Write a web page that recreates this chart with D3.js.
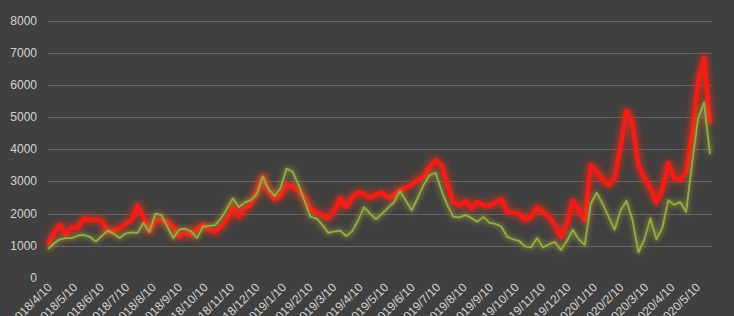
<!DOCTYPE html>
<html>
<head>
<meta charset="utf-8">
<script src="https://cdn.jsdelivr.net/npm/d3@7"></script>
<style>
  html, body { margin: 0; padding: 0; background: #404040; }
  svg { display: block; }
</style>
</head>
<body>
<svg id="chart" width="734" height="316"></svg>
<script>
// weekly series, first week 2018/4/8
const startDate = "2018-04-08"
const redValues = [
  1050, 1400, 1650, 1350, 1580, 1550, 1850, 1800, 1820, 1780,
  1430, 1480, 1550, 1680, 1800, 2250, 1900, 1450, 1800, 1780,
  1750, 1580, 1300, 1400, 1340, 1550, 1650, 1500, 1420, 1600,
  1800, 2200, 1900, 2150, 2300, 2650, 3150, 2700, 2450, 2550,
  2900, 2850, 2700, 2500, 2150, 2050, 1950, 1860, 2100, 2480,
  2200, 2500, 2670, 2600, 2480, 2600, 2650, 2480, 2580, 2730,
  2800, 2900, 3050, 3150, 3450, 3660, 3500, 2900, 2350, 2250,
  2380, 2170, 2360, 2250, 2230, 2350, 2450, 2050, 2030, 2000,
  1800, 1900, 2200, 2050, 1900, 1650, 1270, 1700, 2400, 2100,
  1800, 3500, 3300, 3050, 2890, 3100, 4100, 5200, 4800, 3500,
  3100, 2800, 2350, 2750, 3570, 3100, 3040, 3300, 4500, 6100,
  6850, 4800
]
const greenValues = [
  900, 1080, 1200, 1240, 1240, 1320, 1340, 1280, 1130, 1300,
  1470, 1380, 1240, 1380, 1420, 1400, 1710, 1430, 2000, 1950,
  1600, 1240, 1500, 1530, 1450, 1240, 1600, 1620, 1640, 1850,
  2150, 2480, 2200, 2350, 2420, 2600, 3150, 2750, 2550, 2800,
  3400, 3300, 2900, 2400, 1900, 1850, 1650, 1400, 1450, 1470,
  1300, 1450, 1800, 2200, 2000, 1820, 2000, 2180, 2350, 2700,
  2400, 2100, 2500, 2900, 3200, 3270, 2700, 2250, 1900, 1880,
  1960, 1860, 1750, 1900, 1720, 1680, 1600, 1280, 1200, 1150,
  980, 950, 1240, 950, 1050, 1120, 870, 1150, 1500, 1200,
  1030, 2300, 2650, 2300, 1900, 1500, 2100, 2400, 1800, 800,
  1200, 1860, 1200, 1550, 2420, 2270, 2360, 2050, 3570, 4950,
  5450, 3850
]
const yTicks = [0, 1000, 2000, 3000, 4000, 5000, 6000, 7000, 8000]
const xTickLabels = [
  "2018/4/10", "2018/5/10", "2018/6/10", "2018/7/10", "2018/8/10", "2018/9/10",
  "2018/10/10", "2018/11/10", "2018/12/10", "2019/1/10", "2019/2/10", "2019/3/10",
  "2019/4/10", "2019/5/10", "2019/6/10", "2019/7/10", "2019/8/10", "2019/9/10",
  "2019/10/10", "2019/11/10", "2019/12/10", "2020/1/10", "2020/2/10", "2020/3/10",
  "2020/4/10", "2020/5/10"
]

const parseLabel = d3.timeParse("%Y/%m/%d")
const first = d3.timeParse("%Y-%m-%d")(startDate)
const dates = redValues.map((v, i) => d3.timeDay.offset(first, i * 7))

const svg = d3.select("#chart")
const plotLeft = 48, plotRight = 710, plotTop = 20.5, plotBottom = 278

const x = d3.scaleTime()
  .domain([dates[0], dates[dates.length - 1]])
  .range([plotLeft, plotRight])
const y = d3.scaleLinear().domain([0, 8000]).range([plotBottom, plotTop])

// soft glow round the lines
const defs = svg.append("defs")
function glow(id, dev, color, opacity) {
  const f = defs.append("filter").attr("id", id)
    .attr("x", "-10%").attr("y", "-40%").attr("width", "120%").attr("height", "180%")
  f.append("feMorphology").attr("in", "SourceAlpha").attr("operator", "dilate").attr("radius", 1).attr("result", "fat")
  f.append("feGaussianBlur").attr("in", "fat").attr("stdDeviation", dev).attr("result", "b")
  f.append("feFlood").attr("flood-color", color).attr("flood-opacity", opacity)
  f.append("feComposite").attr("in2", "b").attr("operator", "in").attr("result", "halo")
  const m = f.append("feMerge")
  m.append("feMergeNode").attr("in", "halo")
  m.append("feMergeNode").attr("in", "SourceGraphic")
}
glow("glowRed", 3.5, "#e02a1a", 0.85)
glow("glowGreen", 2.5, "#a8a030", 0.55)

// grid
svg.append("g")
  .selectAll("line")
  .data(yTicks.filter(d => d > 0))
  .enter().append("line")
  .attr("x1", plotLeft).attr("x2", plotRight + 2)
  .attr("y1", d => Math.round(y(d)) + 0.5).attr("y2", d => Math.round(y(d)) + 0.5)
  .attr("stroke", "#646464").attr("stroke-width", 1)

// y labels
svg.append("g")
  .selectAll("text")
  .data(yTicks)
  .enter().append("text")
  .attr("x", 37)
  .attr("y", d => y(d) + 4)
  .attr("text-anchor", "end")
  .attr("fill", "#d4d4d4")
  .style("font", "12px 'Liberation Sans', Arial, sans-serif")
  .text(d => d)

// x labels, rotated (bottom cut off like the original)
svg.append("g")
  .selectAll("text")
  .data(xTickLabels)
  .enter().append("text")
  .attr("transform", d => "translate(" + (x(parseLabel(d)) + 3) + "," + 288 + ") rotate(-45)")
  .attr("text-anchor", "end")
  .attr("fill", "#d4d4d4")
  .style("font", "12px 'Liberation Sans', Arial, sans-serif")
  .text(d => d)

const line = d3.line()
  .x((d, i) => x(dates[i]))
  .y(d => y(d))

svg.append("path")
  .datum(redValues)
  .attr("d", line)
  .attr("fill", "none")
  .attr("stroke", "#f41c14")
  .attr("stroke-width", 4.5)
  .attr("stroke-linejoin", "round")
  .attr("filter", "url(#glowRed)")

svg.append("path")
  .datum(greenValues)
  .attr("d", line)
  .attr("fill", "none")
  .attr("stroke", "#8cb048")
  .attr("stroke-width", 1.8)
  .attr("stroke-linejoin", "round")
  .attr("filter", "url(#glowGreen)")
</script>
</body>
</html>
